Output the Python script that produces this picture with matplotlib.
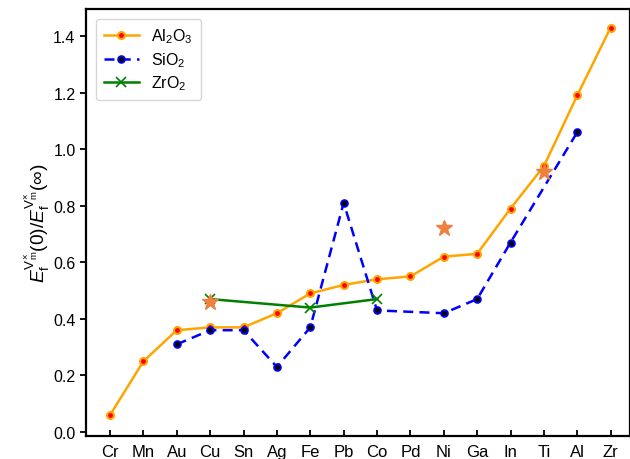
import matplotlib
matplotlib.use("Agg")
import matplotlib.pyplot as plt
import numpy as np

plt.rcParams['font.family'] = ['Liberation Sans', 'DejaVu Sans']
plt.rcParams['mathtext.fontset'] = 'custom'
plt.rcParams['mathtext.rm'] = 'Liberation Sans'
plt.rcParams['mathtext.it'] = 'Liberation Sans:italic'
plt.rcParams['mathtext.bf'] = 'Liberation Sans:bold'

# metals along the x axis
metals = ['Cr', 'Mn', 'Au', 'Cu', 'Sn', 'Ag', 'Fe', 'Pb', 'Co', 'Pd',
          'Ni', 'Ga', 'In', 'Ti', 'Al', 'Zr']

# Al2O3 ratio for every metal
al2o3 = [0.06, 0.25, 0.36, 0.37, 0.37, 0.42, 0.49, 0.52, 0.54, 0.55,
         0.62, 0.63, 0.79, 0.94, 1.19, 1.43]

# SiO2 only has some metals
sio2_metals = ['Au', 'Cu', 'Sn', 'Ag', 'Fe', 'Pb', 'Co', 'Ni', 'Ga', 'In', 'Al']
sio2 = [0.31, 0.36, 0.36, 0.23, 0.37, 0.81, 0.43, 0.42, 0.47, 0.67, 1.06]

# ZrO2
zro2_metals = ['Cu', 'Fe', 'Co']
zro2 = [0.47, 0.44, 0.47]

# star points
star_metals = ['Cu', 'Ni', 'Ti']
star_vals = [0.46, 0.72, 0.92]

pos = {m: i for i, m in enumerate(metals)}

fig = plt.figure(figsize=(6.3, 4.6), dpi=100)
ax = fig.add_axes([0.1365, 0.05, 0.8635, 0.928])

ax.plot(range(len(metals)), al2o3, '-o', color='orange', lw=1.8,
        markersize=5, markerfacecolor='red', markeredgecolor='orange',
        markeredgewidth=1.5, label='Al$_2$O$_3$')
ax.plot([pos[m] for m in sio2_metals], sio2, '--o', color='blue', lw=1.8,
        dashes=(4, 2.5), markersize=5, markerfacecolor='black',
        markeredgecolor='blue', markeredgewidth=1.2, label='SiO$_2$')
ax.plot([pos[m] for m in zro2_metals], zro2, '-x', color='green', lw=1.8,
        markersize=7, markeredgewidth=1.2, label='ZrO$_2$')
ax.plot([pos[m] for m in star_metals], star_vals, '*', color='#ee8040',
        markersize=12, linestyle='none')

ax.set_xticks(range(len(metals)))
ax.set_xticklabels(metals)
ax.set_xlim(-0.72, 15.58)
ax.set_ylim(-0.014, 1.495)
ax.set_yticks(np.arange(0, 1.41, 0.2))
ax.set_yticklabels(['%.1f' % v for v in np.arange(0, 1.41, 0.2)])

ax.tick_params(axis='x', direction='in', labelsize=12, width=1.3, length=4, pad=6)
ax.tick_params(axis='y', direction='out', labelsize=11.5, width=1.3, length=4)
for s in ax.spines.values():
    s.set_linewidth(1.6)

ax.set_ylabel(r'$E_{\mathrm{f}}^{\mathrm{V}_{\mathrm{m}}^{\times}}(0)/E_{\mathrm{f}}^{\mathrm{V}_{\mathrm{m}}^{\times}}(\infty)$',
              fontsize=13.8, labelpad=1)

ax.legend(loc='upper left', fontsize=11.5, handlelength=2.2,
          borderpad=0.5, labelspacing=0.3, borderaxespad=0.6)

fig.savefig('out.png', dpi=100)
